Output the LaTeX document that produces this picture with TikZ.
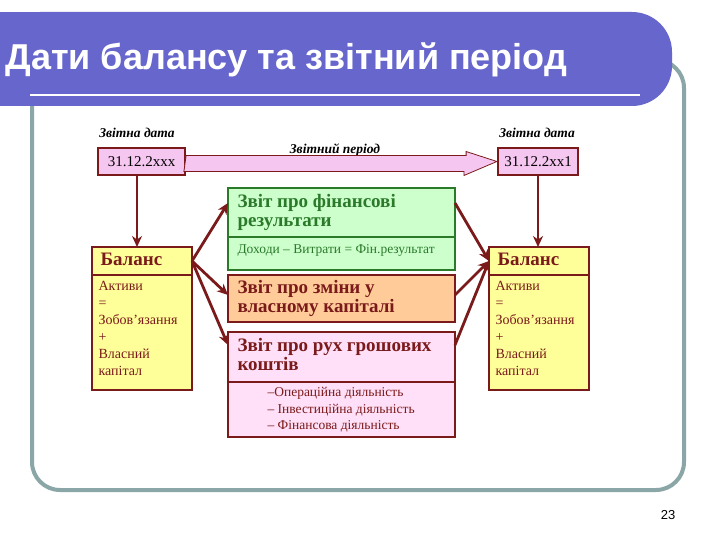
\documentclass[tikz,border=0pt]{standalone}
\usepackage{fontspec}
\setmainfont{Liberation Serif}
\newfontfamily\titlefont{Liberation Sans}
\usetikzlibrary{arrows.meta,shapes.arrows}
\definecolor{dred}{HTML}{7A1A1A}
\definecolor{hblue}{HTML}{6666CC}
\definecolor{frame}{HTML}{8AA6A6}
\definecolor{pinkf}{HTML}{F5C6F0}
\definecolor{greenf}{HTML}{CCFFCC}
\definecolor{dgreen}{HTML}{2A7A2A}
\definecolor{orangef}{HTML}{FFCC99}
\definecolor{lpink}{HTML}{FFE0F8}
\definecolor{yel}{HTML}{FFFF99}
\tikzset{
 bx/.style={draw=dred,line width=2.2pt},
 conn/.style={draw=dred,line width=2.8pt,-{Stealth[length=11pt,width=10pt]}},
 tl/.style={font=\fontsize{13.5}{15}\selectfont\bfseries\itshape},
 hd/.style={font=\fontsize{19}{19}\selectfont\bfseries,anchor=north west,align=left},
 bd/.style={anchor=north west,align=left},
}
\begin{document}
\begin{tikzpicture}[x=1pt,y=-1pt]
\useasboundingbox (0,0) rectangle (720,540);
\fill[white] (0,0) rectangle (720,540);
\draw[frame,line width=4pt,rounded corners=28pt] (32,60) rectangle (684,490);
\fill[hblue,rounded corners=40pt] (0,12) rectangle (672,106);
\fill[hblue] (0,12) rectangle (40,106);
\draw[white,line width=1.5pt] (30,95) -- (640,95);
\node[anchor=west,text=white,font=\titlefont\bfseries\fontsize{36}{38}\selectfont] (title) at (2,60) {Дати балансу та звітний період};
\node[tl] (l1) at (137,133) {Звітна дата};
\node[tl] (l2) at (537,133) {Звітна дата};
\node[bx,fill=pinkf,minimum width=87pt,minimum height=27pt,font=\fontsize{15}{16}\selectfont] (d1) at (141.5,161.5) {31.12.2xxx};
\node[bx,fill=pinkf,minimum width=80pt,minimum height=27pt,font=\fontsize{15}{16}\selectfont] (d2) at (538,161.5) {31.12.2xx1};
\node[tl] (per) at (335,150) {Звітний період};
\draw[dred,fill=pinkf,line width=0.8pt] (d1.east) ++(0,-6) coordinate (a1) -- ++(280,0) -- ++(0,-4) -- (d2.west) -- ++(-33,14) -- ++(0,-4) -- ++(-280,0) -- cycle;
\draw[draw=dgreen,fill=greenf,line width=2.2pt] (228,188) rectangle (455,270);
\draw[dgreen,line width=2.2pt] (228,237) -- (455,237);
\node[hd,text=dgreen] (g1) at (234,191) {Звіт про фінансові\\результати};
\node[bd,text=dgreen,font=\fontsize{13.5}{15}\selectfont] (g2) at (234,241) {Доходи -- Витрати = Фін.результат};
\coordinate (gL) at (228,203); \coordinate (gR) at (455,203);
\draw[bx,fill=orangef] (228,275) rectangle (455,322);
\node[hd,text=dred] (o1) at (234,277) {Звіт про зміни у\\власному капіталі};
\coordinate (oL) at (228,295); \coordinate (oR) at (455,295);
\draw[bx,fill=lpink] (228,332) rectangle (455,437);
\draw[dred,line width=2.2pt] (228,382) -- (455,382);
\node[hd,text=dred] (p1) at (234,335) {Звіт про рух грошових\\коштів};
\node[bd,text=dred,font=\fontsize{13.5}{16.5}\selectfont] (p2) at (264,384) {--Операційна діяльність\\ -- Інвестиційна діяльність\\ -- Фінансова діяльність};
\coordinate (pL) at (228,345); \coordinate (pR) at (455,345);
\foreach \x/\n in {92/bl,489/br}{
 \draw[bx,fill=yel] (\x,247) rectangle (\x+100,390);
 \draw[dred,line width=2.2pt] (\x,275) -- (\x+100,275);
 \node[hd,text=dred] (\n h) at (\x+5,250) {Баланс};
 \node[bd,text=dred,font=\fontsize{14}{17}\selectfont] (\n b) at (\x+3,278) {Активи\\=\\Зобов'язання\\+\\Власний\\капітал};
}
\coordinate (blT) at (137,247); \coordinate (brT) at (538,247);
\coordinate (blR) at (192,261); \coordinate (brL) at (489,261);
\draw[conn] (d1.south -| blT) -- (blT);
\draw[conn] (d2.south -| brT) -- (brT);
\draw[conn] (blR) -- (gL);
\draw[conn] (blR) -- (oL);
\draw[conn] (blR) -- (pL);
\draw[conn] (gR) -- (brL);
\draw[conn] (oR) -- (brL);
\draw[conn] (pR) -- (brL);
\node[font=\titlefont\fontsize{13}{14}\selectfont] (pg) at (668,515) {23};
\end{tikzpicture}
\end{document}
